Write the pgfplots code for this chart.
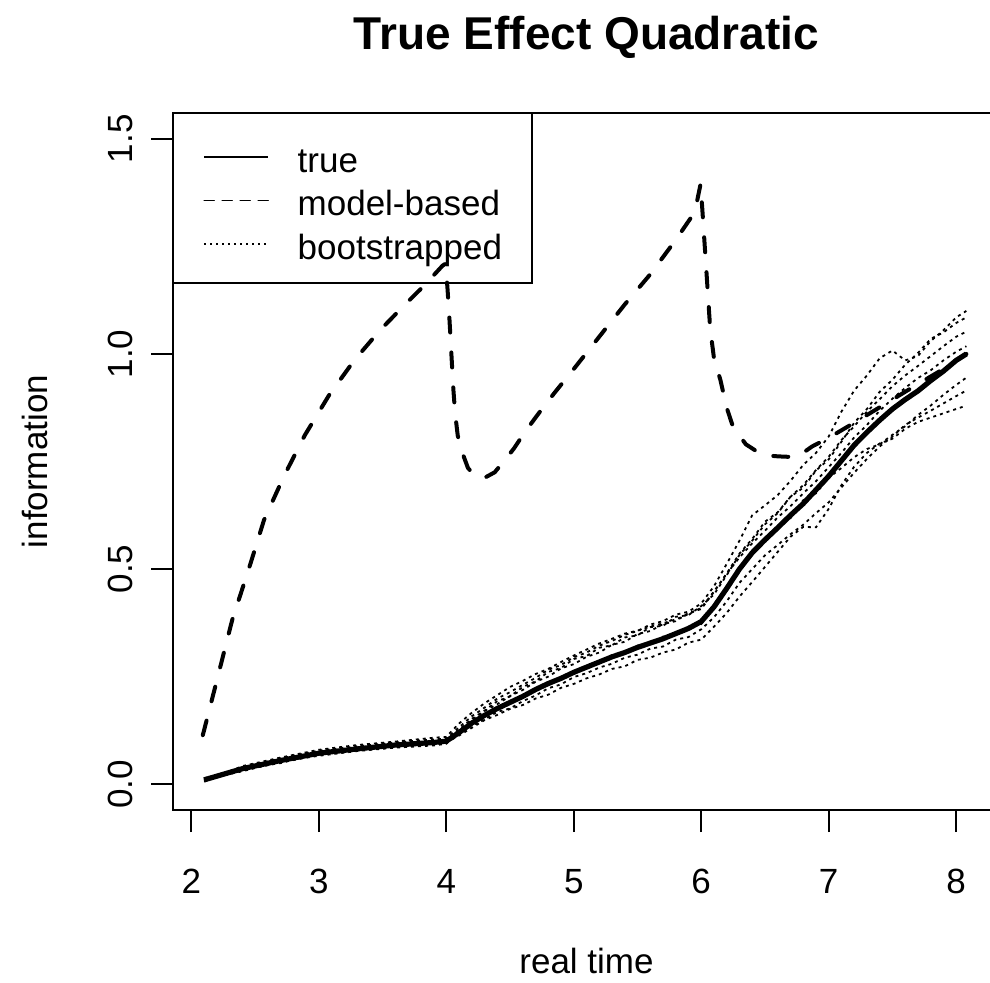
\documentclass[border=0pt]{standalone}
\usepackage{pgfplots}
\pgfplotsset{compat=1.18}
\usepackage{pgfplotstable}
\usepackage{fontspec}
\setmainfont{Liberation Sans}

\pgfplotstableread{
x t b1 b2 b3 b4 b5 b6 b7
2.1 0.010 0.012 0.008 0.010 0.014 0.006 0.011 0.009
2.4 0.036 0.040 0.032 0.038 0.034 0.042 0.030 0.037
2.7 0.055 0.060 0.050 0.057 0.052 0.062 0.053 0.049
3.0 0.072 0.078 0.068 0.075 0.070 0.080 0.066 0.074
3.3 0.082 0.088 0.078 0.086 0.080 0.091 0.077 0.083
3.6 0.091 0.097 0.086 0.094 0.089 0.099 0.085 0.092
3.9 0.097 0.104 0.092 0.101 0.094 0.108 0.090 0.099
4.0 0.100 0.106 0.095 0.104 0.097 0.110 0.094 0.102
4.1 0.120 0.132 0.116 0.127 0.113 0.141 0.121 0.126
4.2 0.142 0.158 0.136 0.149 0.131 0.166 0.139 0.152
4.3 0.160 0.178 0.151 0.170 0.149 0.188 0.162 0.171
4.4 0.176 0.199 0.168 0.186 0.161 0.207 0.174 0.193
4.5 0.190 0.214 0.176 0.205 0.175 0.226 0.192 0.204
4.6 0.204 0.231 0.193 0.219 0.184 0.240 0.203 0.226
4.7 0.220 0.247 0.206 0.238 0.199 0.256 0.221 0.239
4.8 0.234 0.266 0.223 0.250 0.208 0.268 0.230 0.261
4.9 0.246 0.277 0.232 0.269 0.224 0.284 0.249 0.270
5.0 0.260 0.295 0.249 0.279 0.233 0.299 0.256 0.291
5.1 0.272 0.306 0.258 0.296 0.246 0.313 0.275 0.298
5.2 0.284 0.322 0.271 0.306 0.255 0.327 0.281 0.317
5.3 0.296 0.333 0.280 0.324 0.268 0.338 0.300 0.323
5.4 0.306 0.347 0.294 0.331 0.274 0.350 0.303 0.341
5.5 0.318 0.356 0.301 0.349 0.289 0.357 0.322 0.346
5.6 0.328 0.371 0.315 0.356 0.294 0.366 0.326 0.365
5.7 0.338 0.379 0.320 0.372 0.306 0.374 0.343 0.368
5.8 0.350 0.394 0.336 0.379 0.313 0.383 0.347 0.389
5.9 0.362 0.401 0.342 0.398 0.329 0.395 0.366 0.393
6.0 0.378 0.420 0.360 0.407 0.336 0.410 0.372 0.414
6.1 0.412 0.460 0.388 0.447 0.366 0.448 0.410 0.441
6.2 0.455 0.512 0.425 0.490 0.398 0.489 0.458 0.486
6.3 0.500 0.566 0.468 0.536 0.436 0.527 0.497 0.533
6.4 0.538 0.625 0.500 0.570 0.470 0.560 0.541 0.566
6.5 0.568 0.648 0.532 0.610 0.505 0.589 0.562 0.604
6.6 0.596 0.672 0.556 0.632 0.540 0.620 0.601 0.630
6.7 0.625 0.705 0.581 0.668 0.575 0.646 0.618 0.668
6.8 0.652 0.742 0.603 0.695 0.598 0.676 0.660 0.689
6.9 0.684 0.770 0.630 0.730 0.597 0.704 0.676 0.729
7.0 0.716 0.808 0.655 0.761 0.640 0.737 0.712 0.755
7.1 0.752 0.866 0.690 0.800 0.695 0.770 0.735 0.796
7.2 0.788 0.915 0.724 0.832 0.738 0.806 0.760 0.840
7.3 0.818 0.950 0.756 0.866 0.770 0.835 0.779 0.872
7.4 0.846 0.990 0.785 0.895 0.792 0.868 0.790 0.912
7.5 0.872 1.008 0.808 0.925 0.803 0.896 0.812 0.940
7.6 0.894 0.985 0.835 0.950 0.826 0.921 0.832 0.975
7.7 0.914 0.995 0.852 0.972 0.842 0.944 0.858 1.002
7.8 0.938 1.030 0.868 0.995 0.852 0.962 0.880 1.035
7.9 0.960 1.055 0.885 1.018 0.862 0.985 0.905 1.050
8.0 0.985 1.085 0.902 1.040 0.872 1.005 0.928 1.072
8.08 1.000 1.100 0.915 1.052 0.880 1.018 0.945 1.085
}\boot

\begin{document}
\begin{tikzpicture}
\useasboundingbox (-86.75pt,-86pt) rectangle (408.25pt,405pt);
\clip (-86.75pt,-86pt) rectangle (408.25pt,405pt);
\begin{axis}[
  at={(0pt,0pt)}, anchor=south west,
  scale only axis, width=413pt, height=348.5pt,
  xmin=1.86, xmax=8.34, ymin=-0.06, ymax=1.56,
  axis line style={line width=1pt},
  xtick={2,3,4,5,6,7,8}, xticklabels={2,3,4,5,6,7,8},
  ytick={0,0.5,1,1.5}, yticklabels={0.0,0.5,1.0,1.5},
  xtick pos=left, ytick pos=left,
  tick align=outside, major tick length=11pt,
  tick style={line width=0.9pt, black},
  minor tick num=0,
  tick label style={font=\fontsize{17.5}{20}\selectfont, inner sep=0pt},
  xticklabel style={anchor=base, yshift=-30.5pt},
  yticklabel style={xshift=-9.25pt, rotate=90, anchor=base},
  xlabel={real time}, ylabel={information},
  label style={font=\fontsize{17.5}{20}\selectfont, inner sep=0pt},
  xlabel style={at={(axis description cs:0.5,-0.234)}, anchor=base},
  ylabel style={at={(axis description cs:-0.152,0.5)}, anchor=base},
  title={True Effect Quadratic},
  title style={font=\fontsize{23}{26}\selectfont\bfseries, at={(axis description cs:0.5,1.074)}, anchor=base, inner sep=0pt},
  legend style={draw=none, fill=none, at={(axis description cs:0.0357,0.9498)}, anchor=north west,
    inner sep=0pt, row sep=5.67pt, column sep=14.35pt, font=\fontsize{17.5}{20}\selectfont,
    nodes={inner sep=0pt, text height=12pt, text depth=4pt}},
  legend cell align=left,
]
\addplot[black, line width=0.9pt, dash pattern=on 1.5pt off 2pt, forget plot] table[x=x, y=b2] {\boot};
\addplot[black, line width=0.9pt, dash pattern=on 1.5pt off 2pt, forget plot] table[x=x, y=b3] {\boot};
\addplot[black, line width=0.9pt, dash pattern=on 1.5pt off 2pt, forget plot] table[x=x, y=b4] {\boot};
\addplot[black, line width=0.9pt, dash pattern=on 1.5pt off 2pt, forget plot] table[x=x, y=b5] {\boot};
\addplot[black, line width=0.9pt, dash pattern=on 1.5pt off 2pt, forget plot] table[x=x, y=b6] {\boot};
\addplot[black, line width=0.9pt, dash pattern=on 1.5pt off 2pt, forget plot] table[x=x, y=b7] {\boot};
\addplot[black, line width=2.6pt, line join=round,
  legend image code/.code={\draw[black, line width=0.8pt] (0pt,3.6pt) -- (32pt,3.6pt);}]
  table[x=x, y=t] {\boot};
\addlegendentry{true}
\addplot[black, line width=2pt, line cap=round, line join=round, dash pattern=on 7.5pt off 10pt,
  legend image code/.code={\draw[black, line width=0.8pt, dash pattern=on 5pt off 4pt] (0pt,3.6pt) -- (32pt,3.6pt);}]
  coordinates {(2.09,0.114)(2.18,0.218)(2.32,0.381)(2.46,0.509)(2.57,0.614)(2.73,0.718)(2.89,0.811)(3.08,0.904)(3.28,0.986)(3.48,1.055)(3.67,1.113)(3.83,1.16)(3.97,1.205)(3.995,1.21)(4.01,1.15)(4.025,1.08)(4.04,1.0)(4.055,0.92)(4.07,0.86)(4.09,0.81)(4.12,0.775)(4.17,0.735)(4.23,0.715)(4.30,0.712)(4.38,0.725)(4.45,0.75)(4.53,0.78)(4.62,0.82)(4.72,0.86)(4.85,0.91)(5.0,0.965)(5.2,1.04)(5.4,1.115)(5.6,1.185)(5.8,1.265)(5.95,1.33)(5.995,1.395)(6.01,1.33)(6.03,1.24)(6.05,1.15)(6.07,1.06)(6.1,0.99)(6.15,0.94)(6.2,0.875)(6.25,0.83)(6.35,0.79)(6.48,0.765)(6.6,0.762)(6.75,0.76)(6.87,0.785)(7.0,0.805)(7.2,0.84)(7.45,0.885)(7.7,0.93)(7.9,0.965)(8.08,1.0)};
\addlegendentry{model-based}
\addplot[black, line width=0.9pt, dash pattern=on 1.5pt off 2pt,
  legend image code/.code={\draw[black, line width=0.8pt, dash pattern=on 1pt off 2pt] (0pt,3.6pt) -- (32pt,3.6pt);}]
  table[x=x, y=b1] {\boot};
\addlegendentry{bootstrapped}
\draw[black, line width=1pt] (axis description cs:0,1) rectangle (axis description cs:0.4337,0.7565);
\end{axis}
\end{tikzpicture}
\end{document}
